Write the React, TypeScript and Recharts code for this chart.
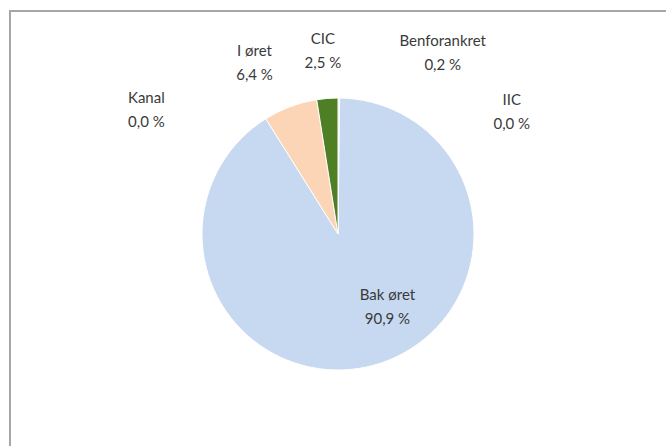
import React from "react";
import { PieChart, Pie, Cell } from "recharts";

const categories = ["Benforankret", "IIC", "Bak øret", "Kanal", "I øret", "CIC"];
const shares = [0.2, 0.0, 90.9, 0.0, 6.4, 2.5];
const colors = ["#D9D9D9", "#E6B9B8", "#C6D9F1", "#B7DEE8", "#FBD5B5", "#4F7F24"];
// label placement: polar angle (deg) and radius factor relative to outer radius
const labelAngles = [60, 35, -56, 147, 116, 94.7];
const labelRadii = [1.54, 1.56, 0.65, 1.68, 1.4, 1.35];

const data = categories.map((name, i) => ({ name, value: shares[i] }));

const fmt = (v: number) => v.toFixed(1).replace(".", ",") + " %";

const RAD = Math.PI / 180;

const renderLabel = (props: any) => {
  const { cx, cy, outerRadius, index } = props;
  const a = labelAngles[index] * RAD;
  const r = outerRadius * labelRadii[index];
  const x = cx + r * Math.cos(a);
  const y = cy - r * Math.sin(a);
  return (
    <text
      key={`lbl-${index}`}
      x={x}
      y={y}
      textAnchor="middle"
      fill="#3A3A3A"
      fontFamily="Lato, 'Open Sans', sans-serif"
      fontSize={15}
    >
      <tspan x={x} dy={-7}>{categories[index]}</tspan>
      <tspan x={x} dy={24}>{fmt(shares[index])}</tspan>
    </text>
  );
};

export default function App() {
  return (
    <div style={{ position: "relative", width: 666, height: 446, background: "#fff", overflow: "hidden" }}>
      <style>{`body{margin:0}`}</style>
      <div
        style={{
          position: "absolute",
          left: 9,
          top: 10,
          width: 700,
          height: 500,
          border: "2px solid #A6A6A6",
          boxSizing: "border-box",
        }}
      />
      <div style={{ position: "absolute", left: 0, top: 0 }}>
        <PieChart width={666} height={446} margin={{ top: 0, right: 0, bottom: 0, left: 0 }}>
          <Pie
            data={data}
            dataKey="value"
            nameKey="name"
            cx={338}
            cy={234}
            outerRadius={136}
            startAngle={90}
            endAngle={-270}
            stroke="#FFFFFF"
            strokeWidth={1}
            label={renderLabel}
            labelLine={false}
            isAnimationActive={false}
          >
            {data.map((d, i) => (
              <Cell key={d.name} fill={colors[i]} />
            ))}
          </Pie>
        </PieChart>
      </div>
    </div>
  );
}
